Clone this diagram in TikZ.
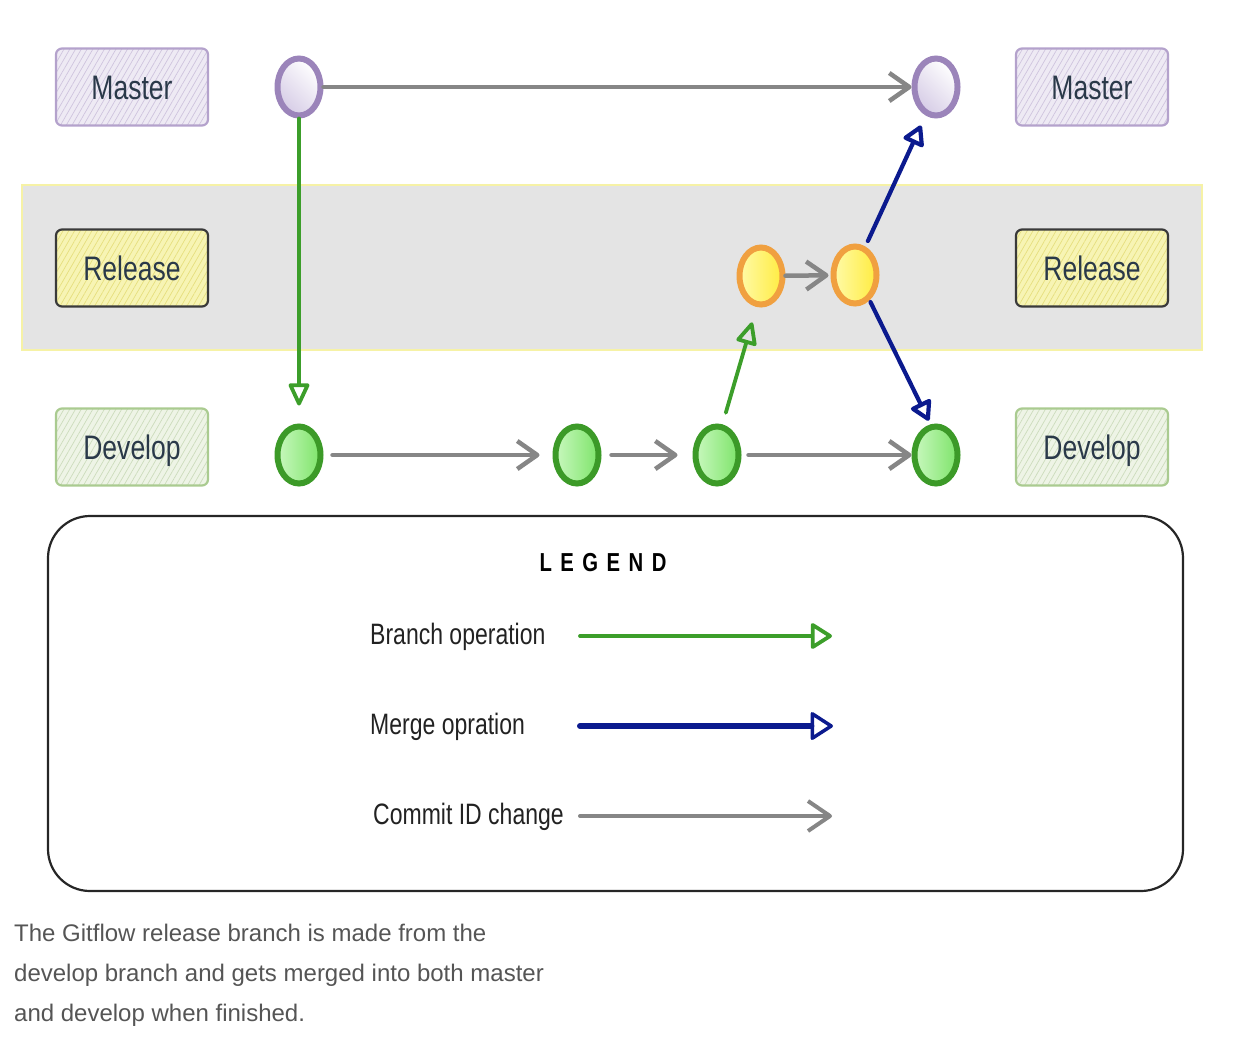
\documentclass[tikz,border=0pt]{standalone}
\usepackage{fontspec}
\setmainfont{Liberation Sans}
\newfontfamily\narrowfont[FakeStretch=0.78]{Liberation Sans}
\usetikzlibrary{shapes.geometric,arrows.meta,patterns.meta}
\definecolor{bandfill}{HTML}{E4E4E4}
\definecolor{bandline}{HTML}{F6F2A6}
\definecolor{mbox}{HTML}{B4A2CC}
\definecolor{mfill}{HTML}{EEEAF4}
\definecolor{mhatch}{HTML}{CFC4DE}
\definecolor{rbox}{HTML}{3A3A3A}
\definecolor{rfill}{HTML}{F7F4B4}
\definecolor{rhatch}{HTML}{E6DF7E}
\definecolor{dbox}{HTML}{AACB90}
\definecolor{dfill}{HTML}{EEF4E6}
\definecolor{dhatch}{HTML}{CCDCBC}
\definecolor{lbltext}{HTML}{2A3949}
\definecolor{mcirc}{HTML}{9B84BA}
\definecolor{mcircfill}{HTML}{D6CCE6}
\definecolor{rcirc}{HTML}{F0A040}
\definecolor{rcircfill}{HTML}{FFEC40}
\definecolor{rcirclight}{HTML}{FFFAA8}
\definecolor{dcirc}{HTML}{3C9A28}
\definecolor{dcircfill}{HTML}{7EE46A}
\definecolor{dcirclight}{HTML}{C8F8BE}
\definecolor{gitgray}{HTML}{868686}
\definecolor{gitgreen}{HTML}{3C9E2A}
\definecolor{gitblue}{HTML}{0B1A8E}
\definecolor{captext}{HTML}{555555}
\definecolor{legtext}{HTML}{222222}
\tikzset{
  lbl/.style={draw, line width=2.2pt, rounded corners=6pt, minimum width=152pt,
    minimum height=77pt, inner sep=0pt, text=lbltext,
    font=\narrowfont\fontsize{34}{34}\selectfont, text height=24pt, text depth=0pt},
  mlbl/.style={lbl, draw=mbox, preaction={fill=mfill},
    pattern={Lines[angle=60,distance=5pt,line width=0.7pt]}, pattern color=mhatch},
  rlbl/.style={lbl, draw=rbox, preaction={fill=rfill},
    pattern={Lines[angle=60,distance=5pt,line width=0.7pt]}, pattern color=rhatch},
  dlbl/.style={lbl, draw=dbox, preaction={fill=dfill},
    pattern={Lines[angle=60,distance=5pt,line width=0.7pt]}, pattern color=dhatch},
  commit/.style={ellipse, minimum width=43pt, minimum height=57pt, line width=6pt, inner sep=0pt},
  mc/.style={commit, draw=mcirc, left color=white, right color=mcircfill, shading angle=-45},
  rc/.style={commit, draw=rcirc, left color=rcirclight, right color=rcircfill},
  dc/.style={commit, draw=dcirc, left color=dcirclight, right color=dcircfill},
  commitarrow/.style={draw=gitgray, line width=4.5pt, line cap=round,
    -{Straight Barb[length=20pt,width=28pt,line join=round]}},
  brancharrow/.style={draw=gitgreen, line width=3.8pt, line cap=round,
    -{Triangle[open,length=25pt,width=22pt,line join=round]}},
  mergearrow/.style={draw=gitblue, line width=4.2pt, line cap=round,
    -{Triangle[open,length=22pt,width=24pt,line join=round]}},
  legtxt/.style={anchor=west, inner sep=0pt, text=legtext, font=\narrowfont\fontsize{29.5}{29.5}\selectfont},
  captxt/.style={anchor=base west, inner sep=0pt, text=captext, font=\fontsize{24}{40}\selectfont}
}
\begin{document}
\begin{tikzpicture}[x=1pt,y=-1pt]
\path[use as bounding box] (0,0) rectangle (1234,1050);
% release band
\path[draw=bandline, fill=bandfill, line width=2.5pt] (22,185) rectangle (1202,350);
% labels
\node[mlbl] (mL) at (132,87) {Master};
\node[rlbl] (rL) at (132,268) {Release};
\node[dlbl] (dL) at (132,447) {Develop};
\node[mlbl] (mR) at (1092,87) {Master};
\node[rlbl] (rR) at (1092,268) {Release};
\node[dlbl] (dR) at (1092,447) {Develop};
% commits
\node[mc] (m1) at (299,87) {};
\node[mc] (m2) at (936,87) {};
\node[rc] (r1) at (761,276) {};
\node[rc] (r2) at (855,275) {};
\node[dc] (d1) at (299,455) {};
\node[dc] (d2) at (577,455) {};
\node[dc] (d3) at (717,455) {};
\node[dc] (d4) at (936,455) {};
% connectors
\draw[commitarrow] (m1) -- (m2);
\draw[brancharrow, shorten >=18pt] (m1) -- (d1);
\draw[commitarrow, shorten <=9pt, shorten >=13pt] (d1) -- (d2);
\draw[commitarrow, shorten <=10pt, shorten >=15pt] (d2) -- (d3);
\draw[commitarrow, shorten <=7pt] (d3) -- (d4);
\draw[brancharrow, shorten <=12pt, shorten >=16pt] (d3.80) -- (r1.262);
\draw[commitarrow, shorten >=2pt] (r1) -- (r2);
\draw[mergearrow, shorten <=6pt, shorten >=11pt] (r2.70) -- (m2.250);
\draw[mergearrow, shorten <=2pt, shorten >=4pt] (r2.-60) -- (d4.100);
% legend
\node[draw=black!85, line width=2.2pt, rounded corners=42pt, minimum width=1135pt,
  minimum height=375pt, inner sep=0pt] (legend) at (615.5,703.5) {};
\node[inner sep=0pt, text=black, font=\narrowfont\bfseries\fontsize{26}{26}\selectfont]
  (legtitle) at (603,563) {L\hspace{8.5pt}E\hspace{8.5pt}G\hspace{8.5pt}E\hspace{8.5pt}N\hspace{8.5pt}D};
\node[legtxt] (lt1) at (370,637) {Branch operation};
\node[legtxt] (lt2) at (370,727) {Merge opration};
\node[legtxt] (lt3) at (373,817) {Commit ID change};
\coordinate (la1) at (580,636);
\coordinate (lb1) at (832,636);
\coordinate (la2) at (580,726);
\coordinate (lb2) at (833,726);
\coordinate (la3) at (580,816);
\coordinate (lb3) at (832,816);
\draw[brancharrow, -{Triangle[open,length=23pt,width=28pt,line join=round]}] (la1) -- (lb1);
\draw[mergearrow, line width=6pt, -{Triangle[open,length=24pt,width=30pt,line width=3.5pt,line join=round]}] (la2) -- (lb2);
\draw[commitarrow, line width=4pt, -{Straight Barb[length=22pt,width=30pt,line join=round]}] (la3) -- (lb3);
% caption
\node[captxt] (cap1) at (14,941) {The Gitflow release branch is made from the};
\node[captxt] (cap2) at (14,981) {develop branch and gets merged into both master};
\node[captxt] (cap3) at (14,1021) {and develop when finished.};
\end{tikzpicture}
\end{document}
